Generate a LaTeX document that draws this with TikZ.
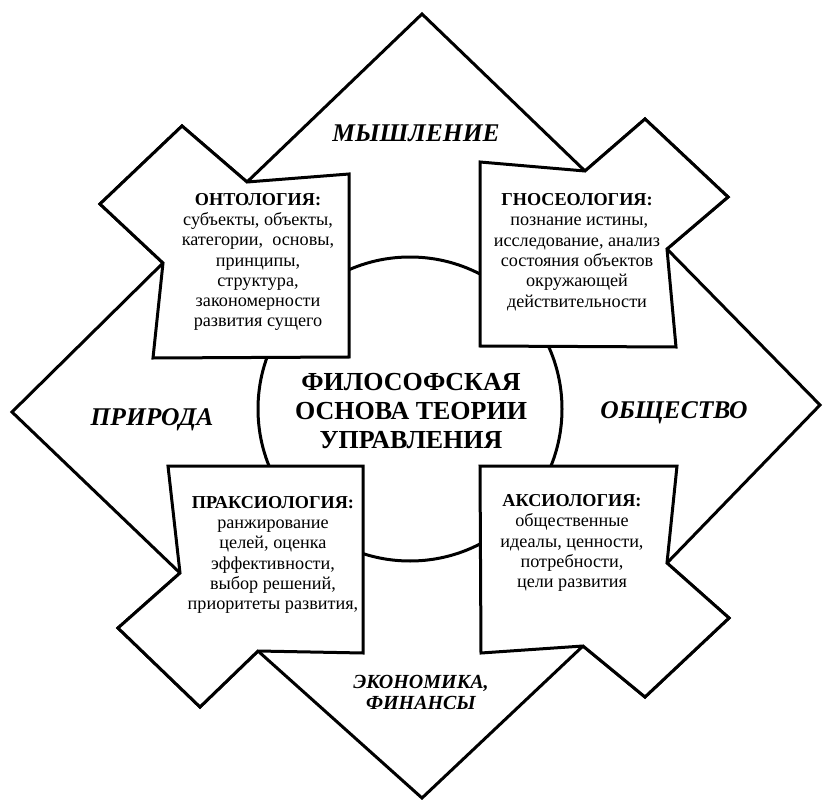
\documentclass[tikz,border=0pt]{standalone}
\usepackage{fontspec}
\setmainfont{Liberation Serif}
\begin{document}
\begin{tikzpicture}[x=1pt,y=-1pt,
  outl/.style={draw=black,line width=3pt,line join=miter,fill=white},
  boxtext/.style={align=center,font=\fontsize{18.2}{20.3}\selectfont,inner sep=0pt},
  arrowlabel/.style={font=\fontsize{25.5}{27}\selectfont\bfseries\itshape,inner sep=0pt,align=center},
  centertext/.style={font=\fontsize{26}{29}\selectfont\bfseries,inner sep=0pt,align=center}]
\useasboundingbox (0,0) rectangle (823,800);
% outer outline (four arrows)
\draw[outl] (422,14) -- (585,171) -- (645,119) -- (728,197) -- (667,249)
  -- (820,405) -- (667,563) -- (729,618) -- (645,697) -- (583,646)
  -- (422,798) -- (258,651) -- (200,707) -- (118,628) -- (180,573)
  -- (12,412) -- (163,263) -- (100,204) -- (182,126) -- (247,182) -- cycle;
% central circle
\draw[line width=3pt] (410,409) circle (152);
% boxes
\draw[outl] (247,182) -- (349,174) -- (349,357) -- (153,358) -- (163,263) -- (100,204) -- (182,126) -- cycle;
\draw[outl] (480,162) -- (585,171) -- (645,119) -- (728,197) -- (667,249) -- (676,347) -- (480,346) -- cycle;
\draw[outl] (168,466) -- (363,466) -- (363,653) -- (258,651) -- (200,707) -- (118,628) -- (180,573) -- cycle;
\draw[outl] (480,466) -- (677,466) -- (667,563) -- (729,618) -- (645,697) -- (583,646) -- (481,653) -- cycle;
% texts
\node[centertext] (center) at (411,411) {ФИЛОСОФСКАЯ\\ОСНОВА ТЕОРИИ\\УПРАВЛЕНИЯ};
\node[arrowlabel] (think) at (416,133) {МЫШЛЕНИЕ};
\node[arrowlabel] (nature) at (152,420) {ПРИРОДА};
\node[arrowlabel] (society) at (674,413) {ОБЩЕСТВО};
\node[arrowlabel,font=\fontsize{20}{21}\selectfont\bfseries\itshape] (econ) at (421,692) {ЭКОНОМИКА,\\ФИНАНСЫ};
\node[boxtext] (onto) at (258,262) {\textbf{ОНТОЛОГИЯ:}\\субъекты, объекты,\\категории,\ \ основы,\\принципы,\\структура,\\закономерности\\развития сущего};
\node[boxtext] (gno) at (577,252) {\textbf{ГНОСЕОЛОГИЯ:}\\\ познание истины,\\исследование, анализ\\состояния объектов\\окружающей\\действительности};
\node[boxtext] (prax) at (273,555) {\textbf{ПРАКСИОЛОГИЯ:}\\ранжирование\\целей, оценка\\эффективности,\\выбор решений,\\приоритеты развития,};
\node[boxtext] (axio) at (572,543) {\textbf{АКСИОЛОГИЯ:}\\общественные\\идеалы, ценности,\\потребности,\\цели развития};
\end{tikzpicture}
\end{document}
